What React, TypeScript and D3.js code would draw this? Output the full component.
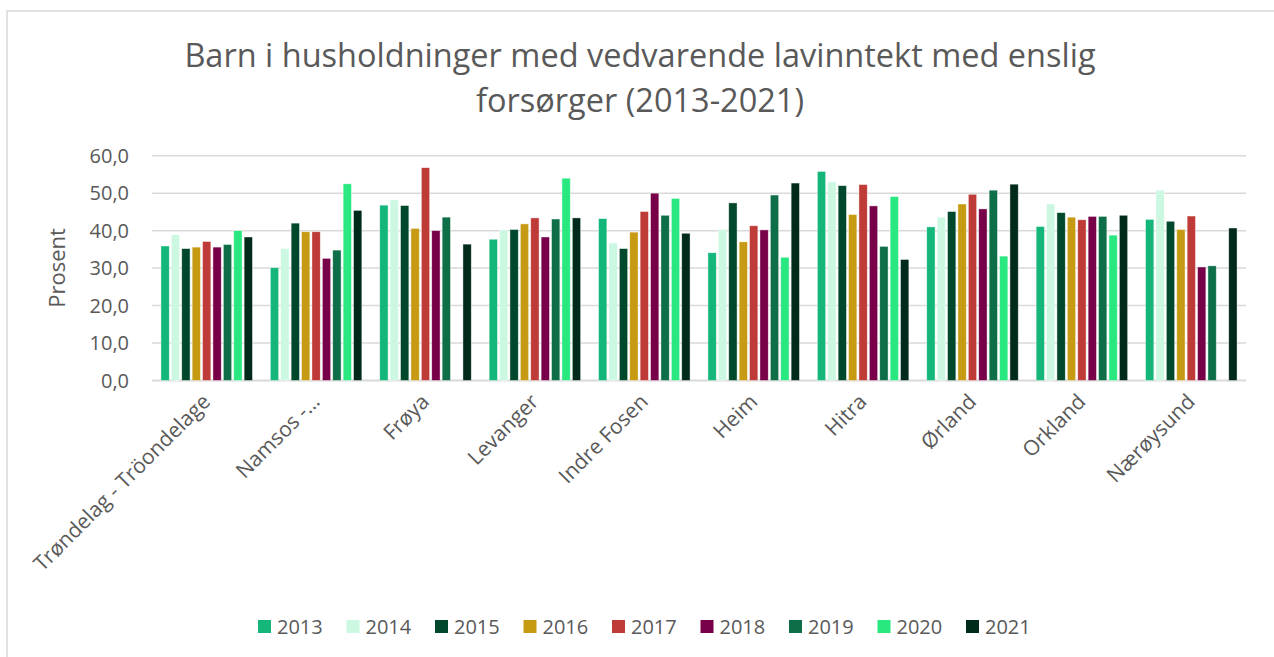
import React from "react";
import * as d3 from "d3";

const categories = [
  "Trøndelag - Tröondelage",
  "Namsos -…",
  "Frøya",
  "Levanger",
  "Indre Fosen",
  "Heim",
  "Hitra",
  "Ørland",
  "Orkland",
  "Nærøysund",
];

const years = ["2013", "2014", "2015", "2016", "2017", "2018", "2019", "2020", "2021"];

const yearColors = [
  "#14B779",
  "#CCF7E1",
  "#00482B",
  "#C79A14",
  "#BE3B37",
  "#780049",
  "#0D6E48",
  "#2AE880",
  "#002A19",
];

// one row per municipality, one value per year (null = no data)
const values: (number | null)[][] = [
  [35.9, 38.9, 35.2, 35.6, 37.1, 35.6, 36.3, 40.0, 38.3],
  [30.1, 35.2, 42.0, 39.7, 39.7, 32.6, 34.8, 52.5, 45.4],
  [46.8, 48.2, 46.7, 40.6, 56.8, 40.0, 43.6, null, 36.4],
  [37.7, 40.2, 40.3, 41.8, 43.4, 38.3, 43.1, 54.0, 43.4],
  [43.2, 36.7, 35.2, 39.6, 45.1, 50.0, 44.1, 48.6, 39.3],
  [34.1, 40.3, 47.4, 37.0, 41.3, 40.2, 49.5, 32.9, 52.7],
  [55.8, 53.0, 52.0, 44.3, 52.3, 46.6, 35.8, 49.1, 32.3],
  [41.0, 43.6, 45.1, 47.1, 49.7, 45.8, 50.8, 33.2, 52.4],
  [41.1, 47.1, 44.8, 43.6, 42.9, 43.8, 43.8, 38.8, 44.1],
  [43.0, 50.8, 42.5, 40.3, 43.9, 30.3, 30.6, null, 40.7],
];

const yTicks = [0, 10, 20, 30, 40, 50, 60];

const titleLines = [
  "Barn i husholdninger med vedvarende lavinntekt med enslig",
  "forsørger (2013-2021)",
];

const W = 1274;
const H = 657;
const FONT = "'Open Sans', sans-serif";
const TEXT = "#595959";

export default function App() {
  const x0 = d3.scaleBand().domain(categories).range([152, 1246]).padding(0);
  const x1 = d3
    .scaleBand()
    .domain(years)
    .range([0, x0.bandwidth()])
    .paddingInner(0.2)
    .paddingOuter(0.86);
  const y = d3.scaleLinear().domain([0, 60]).range([380.5, 155.7]);
  const fmt = (v: number) => d3.format(".1f")(v).replace(".", ",");

  const legendStep = 88.5;
  const legendX0 = 258;

  return (
    <div style={{ position: "absolute", left: 0, top: 0 }}>
      <svg width={W} height={H} style={{ display: "block", background: "#fff" }}>
        <rect x={7} y={11} width={W + 10} height={H + 10} fill="#fff" stroke="#d9d9d9" strokeWidth={1.5} />

        {titleLines.map((t, i) => (
          <text
            key={t}
            x={640}
            y={67 + i * 45}
            textAnchor="middle"
            fontFamily={FONT}
            fontSize={32.5}
            fill={TEXT}
          >
            {t}
          </text>
        ))}

        {yTicks.map((t) => (
          <g key={t}>
            <line x1={152} x2={1246} y1={y(t)} y2={y(t)} stroke="#d9d9d9" strokeWidth={t === 0 ? 2 : 1.5} />
            <text
              x={129}
              y={y(t)}
              dy="0.35em"
              textAnchor="end"
              fontFamily={FONT}
              fontSize={20}
              fill={TEXT}
            >
              {fmt(t)}
            </text>
          </g>
        ))}

        <text
          transform={`translate(65,268) rotate(-90)`}
          textAnchor="middle"
          fontFamily={FONT}
          fontSize={22}
          fill={TEXT}
        >
          Prosent
        </text>

        {categories.map((c, ci) => (
          <g key={c} transform={`translate(${x0(c)},0)`}>
            {years.map((yr, yi) => {
              const v = values[ci][yi];
              if (v == null) return null;
              return (
                <rect
                  key={yr}
                  x={x1(yr)}
                  y={y(v)}
                  width={x1.bandwidth()}
                  height={y(0) - y(v)}
                  fill={yearColors[yi]}
                  stroke="#ffffff"
                  strokeOpacity={0.6}
                  strokeWidth={0.7}
                />
              );
            })}
          </g>
        ))}

        {categories.map((c) => {
          const cx = (x0(c) as number) + x0.bandwidth() / 2;
          return (
            <text
              key={c}
              transform={`translate(${cx + 5},${403}) rotate(-45)`}
              textAnchor="end"
              fontFamily={FONT}
              fontSize={21}
              fill={TEXT}
            >
              {c}
            </text>
          );
        })}

        {years.map((yr, i) => (
          <g key={yr} transform={`translate(${legendX0 + i * legendStep},620)`}>
            <rect width={13} height={13} fill={yearColors[i]} />
            <text x={19} y={6.5} dy="0.36em" fontFamily={FONT} fontSize={20} fill={TEXT}>
              {yr}
            </text>
          </g>
        ))}
      </svg>
    </div>
  );
}
